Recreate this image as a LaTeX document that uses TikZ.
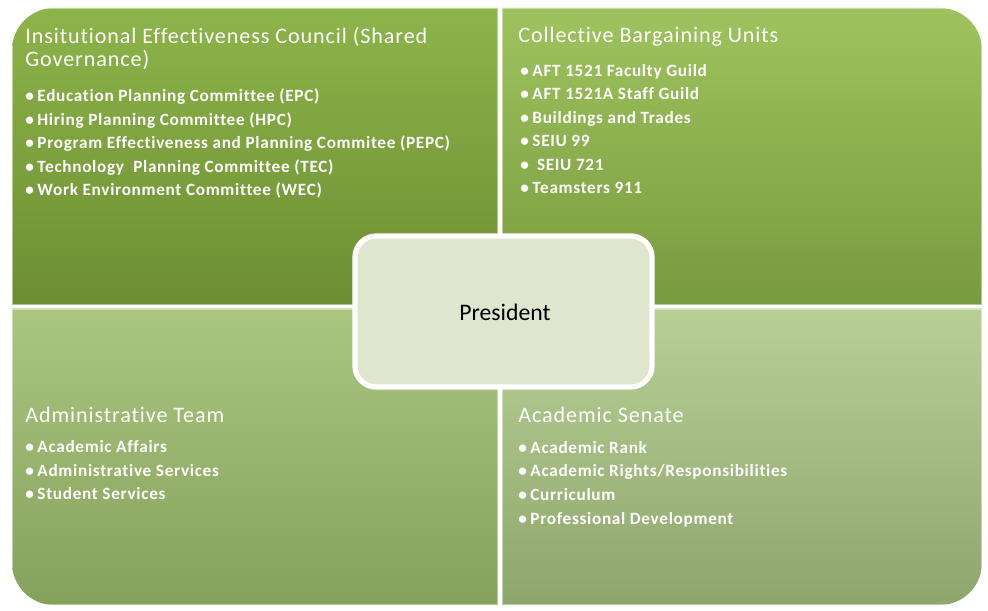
\documentclass[tikz,border=0pt]{standalone}
\usepackage{fontspec}
\setmainfont{Carlito}
\newfontfamily\spacedfont[LetterSpace=4, Ligatures=NoCommon]{Carlito}
\usetikzlibrary{shadows}

\definecolor{tltop}{RGB}{141,180,74}
\definecolor{tlbot}{RGB}{108,142,50}
\definecolor{trtop}{RGB}{158,195,94}
\definecolor{trbot}{RGB}{120,154,62}
\definecolor{bltop}{RGB}{170,198,128}
\definecolor{blbot}{RGB}{134,161,90}
\definecolor{brtop}{RGB}{184,207,150}
\definecolor{brbot}{RGB}{142,166,108}
\definecolor{presfill}{RGB}{222,231,206}

\newcommand{\bul}{\textbullet\hspace{2pt}}

\tikzset{
  quad/.style={draw=white, draw opacity=0.45, line width=1.2pt},
  headtxt/.style={anchor=base west, inner sep=0pt, text=white, align=left,
    font=\spacedfont\fontsize{12.6}{13.6}\selectfont},
  itemtxt/.style={anchor=base west, inner sep=0pt, text=white, align=left,
    font=\spacedfont\fontsize{9.8}{13.4}\selectfont\bfseries},
  presbox/.style={draw=white, line width=3pt, fill=presfill, rounded corners=12pt,
    drop shadow={opacity=0.3, shadow xshift=1pt, shadow yshift=-1.5pt}}
}

\begin{document}
\begin{tikzpicture}[x=0.02cm, y=-0.02cm]
	\useasboundingbox (0,0) rectangle (988,611);

	% four quadrants, outer corners rounded
	\begin{scope}
		\clip[rounded corners=24pt] (12,8) rectangle (982,605);
		\shade[quad, top color=tltop, bottom color=tlbot] (12,8) rectangle (498,305);
		\shade[quad, top color=trtop, bottom color=trbot] (502,8) rectangle (982,305);
		\shade[quad, top color=bltop, bottom color=blbot] (12,309) rectangle (498,605);
		\shade[quad, top color=brtop, bottom color=brbot] (502,309) rectangle (982,605);
	\end{scope}

	% texts: base west sits on the last line
	\node[headtxt] (tlhead) at (25,67) {Insitutional Effectiveness Council (Shared\\Governance)};
	\node[itemtxt] (tlitems) at (25,196) {\bul Education Planning Committee (EPC)\\
		\bul Hiring Planning Committee (HPC)\\
		\bul Program Effectiveness and Planning Commitee (PEPC)\\
		\bul Technology \ Planning Committee (TEC)\\
		\bul Work Environment Committee (WEC)};

	\node[headtxt] (trhead) at (518,43) {Collective Bargaining Units};
	\node[itemtxt] (tritems) at (520,194) {\bul AFT 1521 Faculty Guild\\
		\bul AFT 1521A Staff Guild\\
		\bul Buildings and Trades\\
		\bul SEIU 99\\
		\bul \ SEIU 721\\
		\bul Teamsters 911};

	\node[headtxt] (blhead) at (25,422) {Administrative Team};
	\node[itemtxt] (blitems) at (25,500) {\bul Academic Affairs\\
		\bul Administrative Services\\
		\bul Student Services};

	\node[headtxt] (brhead) at (518,422) {Academic Senate};
	\node[itemtxt] (britems) at (518,524) {\bul Academic Rank\\
		\bul Academic Rights/Responsibilities\\
		\bul Curriculum\\
		\bul Professional Development};

	% centre box
	\draw[presbox] (355,236) rectangle (652,387);
	\node[font=\fontsize{13.5}{15}\selectfont, text=black] (pres) at (505,312) {President};
\end{tikzpicture}
\end{document}
